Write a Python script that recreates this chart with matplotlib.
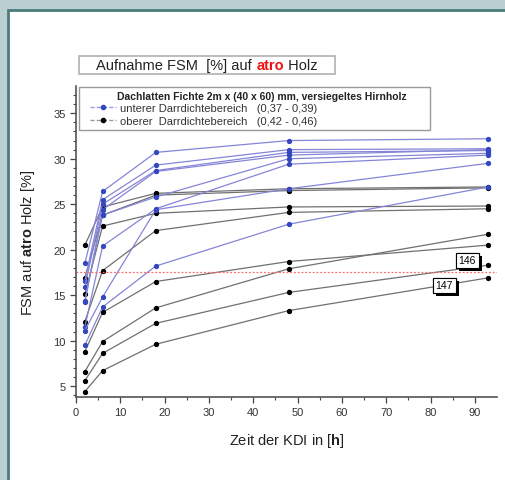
import matplotlib
matplotlib.use("Agg")
import matplotlib.pyplot as plt
from matplotlib.patches import Rectangle
from matplotlib.offsetbox import TextArea, HPacker, AnchoredOffsetbox
from matplotlib.lines import Line2D
import matplotlib.patheffects as pe

plt.rcParams['font.family'] = ['Liberation Sans', 'DejaVu Sans']
plt.rcParams['mathtext.fontset'] = 'custom'
plt.rcParams['mathtext.rm'] = 'Liberation Sans'
plt.rcParams['mathtext.bf'] = 'Liberation Sans:bold'

# Zeitpunkte der Messung (h)
zeit = [2, 6, 18, 48, 93]

# unterer Darrdichtebereich (0,37 - 0,39)
unterer = [
    [18.5, 26.4, 30.7, 32.0, 32.2],
    [16.6, 25.5, 29.3, 31.0, 31.1],
    [15.9, 25.0, 28.7, 30.7, 30.9],
    [14.2, 24.4, 28.6, 30.4, 31.0],
    [14.4, 23.8, 25.8, 30.0, 30.6],
    [11.5, 20.4, 24.5, 29.4, 30.4],
    [11.1, 14.8, 24.4, 26.7, 29.5],
    [9.5, 13.7, 18.2, 22.8, 26.9],
]

# oberer Darrdichtebereich (0,42 - 0,46)
oberer = [
    [20.5, 24.7, 26.2, 26.7, 26.9],
    [16.9, 23.8, 26.0, 26.5, 26.8],
    [15.1, 22.6, 24.0, 24.7, 24.8],
    [12.1, 17.7, 22.1, 24.1, 24.5],
    [8.8, 13.1, 16.5, 18.7, 20.5],
    [6.6, 9.9, 13.6, 17.9, 21.7],
    [5.6, 8.6, 11.9, 15.3, 18.3],
    [4.4, 6.7, 9.6, 13.3, 16.9],
]

grenzwert = 17.5

fig = plt.figure(figsize=(5.06, 4.81), dpi=100)
fig.patch.set_facecolor('#b9cfd2')
fig.add_artist(Rectangle((8 / 506, -0.1), 1.2, 1 - 11 / 481 + 0.1, transform=fig.transFigure,
                         facecolor='white', edgecolor='#4b7a7b', linewidth=2, zorder=-1))

ax = fig.add_axes([76 / 506, 1 - 398 / 481, (497 - 76) / 506, (398 - 87) / 481])
ax.patch.set_alpha(0)

for werte in oberer:
    ax.plot(zeit, werte, color='#707070', lw=0.9, marker='o', ms=2.8,
            mfc='black', mec='black')
for werte in unterer:
    ax.plot(zeit, werte, color='#8585d8', lw=0.9, marker='o', ms=2.8,
            mfc='#3348c0', mec='#3348c0')

ax.axhline(grenzwert, color='#ff6a6a', lw=0.9, ls=(0, (1.5, 1.5)))

ax.set_xlim(0, 95)
ax.set_ylim(3.8, 38)
ax.set_xticks(range(0, 91, 10))
ax.set_xticks(range(5, 95, 10), minor=True)
ax.set_yticks(range(5, 36, 5))
ax.set_yticks(range(4, 38), minor=True)
ax.spines['top'].set_visible(False)
ax.spines['right'].set_visible(False)
for s in ['left', 'bottom']:
    ax.spines[s].set_color('#555555')
    ax.spines[s].set_linewidth(1.2)
ax.tick_params(which='major', length=4, width=0.9, color='#444444', labelsize=8, labelcolor='#333333')
ax.tick_params(which='minor', length=2, width=0.8, color='#444444')

ax.set_xlabel(r"Zeit der KDI in [$\mathbf{h}$]", fontsize=10.5, color='#222222', labelpad=10)
ax.set_ylabel(r"FSM auf $\mathbf{atro}$ Holz [%]", fontsize=10.5, color='#222222', labelpad=12)

# Nummern der Proben
for nr, xx, yy in [("146", 88.3, 18.85), ("147", 83.1, 16.1)]:
    t = ax.text(xx, yy, nr, fontsize=7.5, ha='center', va='center',
                bbox=dict(boxstyle='square,pad=0.25', fc='white', ec='black', lw=0.8))
    t.get_bbox_patch().set_path_effects([pe.withSimplePatchShadow(offset=(2.5, -2.5), shadow_rgbFace='black', alpha=1.0),
                                         pe.Normal()])

# Legende: Kasten, Titel und Eintraege
ax.add_patch(Rectangle((79 / 506, 1 - 131 / 481), (430 - 79) / 506, 43 / 481, transform=fig.transFigure,
                       facecolor='white', edgecolor='#999999', linewidth=1, zorder=4, clip_on=False))
ax.text(262 / 506, 1 - 97 / 481, "Dachlatten Fichte 2m x (40 x 60) mm, versiegeltes Hirnholz",
        transform=fig.transFigure, ha='center', va='center', fontsize=7.5, fontweight='bold',
        color='#222222', zorder=5)
handles = [Line2D([], [], color='#9a9ae0', lw=1, ls=(0, (3, 1.5)), marker='o', ms=3, mfc='#3348c0', mec='#3348c0'),
           Line2D([], [], color='#9a9a9a', lw=1, ls=(0, (3, 1.5)), marker='o', ms=3, mfc='black', mec='black')]
leg = ax.legend(handles, ["unterer Darrdichtebereich   (0,37 - 0,39)",
                          "oberer  Darrdichtebereich   (0,42 - 0,46)"],
                loc='upper left', bbox_to_anchor=(90 / 506, 1 - 104 / 481), bbox_transform=fig.transFigure,
                borderaxespad=0, borderpad=0, fontsize=8, frameon=False, handlelength=2.3,
                handletextpad=0.4, labelspacing=0.3)
leg.set_zorder(6)
for txt in leg.get_texts():
    txt.set_color('#333333')

# Titel-Kasten
fig.add_artist(Rectangle((79 / 506, 1 - 75 / 481), (335 - 79) / 506, 18 / 481, transform=fig.transFigure,
                         facecolor='white', edgecolor='#b0b0b0', linewidth=1.2))
teile = [TextArea("Aufnahme FSM  [%] auf ", textprops=dict(fontsize=10.5, color='#222222')),
         TextArea("atro", textprops=dict(fontsize=10.5, color='#ee1111', fontweight='bold')),
         TextArea(" Holz", textprops=dict(fontsize=10.5, color='#222222'))]
box = HPacker(children=teile, align='baseline', pad=0, sep=0)
ab = AnchoredOffsetbox(loc='center', child=box, frameon=False, pad=0, borderpad=0,
                       bbox_to_anchor=((79 + 335) / 2 / 506, 1 - 66 / 481), bbox_transform=fig.transFigure)
fig.add_artist(ab)

plt.savefig("out.png", dpi=100)
